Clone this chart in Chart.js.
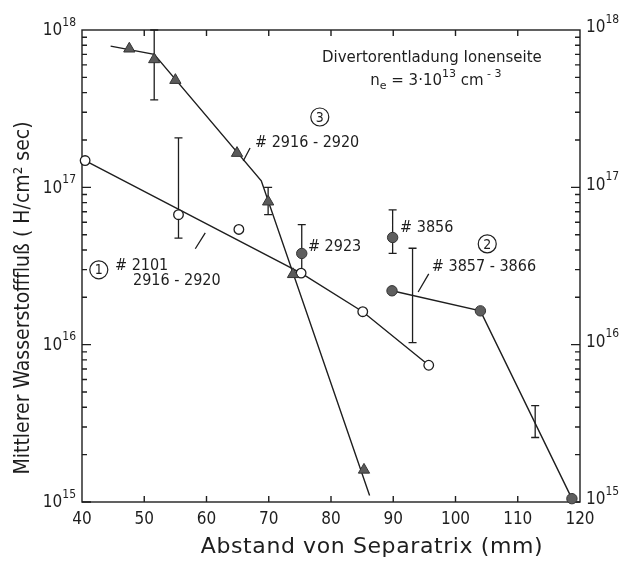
<!DOCTYPE html>
<html>
<head>
<meta charset="utf-8">
<script src="https://cdn.jsdelivr.net/npm/chart.js@4.4.1/dist/chart.umd.min.js"></script>
<style>
  body { margin: 0; background: #fff; }
</style>
</head>
<body>
<canvas id="c" width="629" height="565"></canvas>
<script>
"use strict";

// ---- data ----
const xTickLabels = [40, 50, 60, 70, 80, 90, 100, 110, 120];
const yDecades = [15, 16, 17, 18];

// (3) triangles #2916-2920
const triX = [47.6, 51.6, 55.0, 64.9, 69.9, 73.9, 85.3];
const triY = [7.6e17, 6.5e17, 4.8e17, 1.65e17, 8.1e16, 2.8e16, 1.6e15];
const triLineX = [44.6, 51.6, 68.8, 86.2];
const triLineY = [7.9e17, 7.0e17, 1.1e17, 1.1e15];

// (1) open circles #2101, 2916-2920
const openX = [40.5, 55.5, 65.2, 75.2, 85.1, 95.7];
const openY = [1.48e17, 6.7e16, 5.4e16, 2.85e16, 1.62e16, 7.4e15];
const openLineX = [40.5, 75.2, 85.1, 95.7];
const openLineY = [1.48e17, 2.85e16, 1.62e16, 7.4e15];

// (2) filled circles #2923, #3856, #3857-3866
const fillX = [75.3, 89.9, 89.8, 104.0, 118.7];
const fillY = [3.8e16, 4.8e16, 2.2e16, 1.64e16, 1.05e15];
const fillLineX = [89.8, 104.0, 118.7];
const fillLineY = [2.2e16, 1.64e16, 1.05e15];

// error bars
const errX = [51.6, 55.5, 69.9, 75.3, 89.9, 93.1, 112.8];
const errLo = [3.6e17, 4.75e16, 6.7e16, 2.9e16, 3.8e16, 1.03e16, 2.57e15];
const errHi = [1.0e18, 2.06e17, 1.0e17, 5.8e16, 7.2e16, 4.1e16, 4.1e15];

// labels in the plot (data coordinates)
const noteText = ['# 2916 - 2920', '# 2101', '2916 - 2920', '# 2923', '# 3856', '# 3857 - 3866'];
const noteX = [67.8, 45.3, 48.2, 76.3, 91.1, 96.2];
const noteY = [1.91e17, 3.16e16, 2.54e16, 4.17e16, 5.5e16, 3.12e16];
const circNum = ['3', '1', '2'];
const circX = [78.2, 42.7, 105.1];
const circY = [2.8e17, 2.99e16, 4.37e16];
const leaderX = [[65.9, 67.0], [58.2, 59.8], [94.0, 95.7]];
const leaderY = [[1.47e17, 1.78e17], [4.07e16, 5.13e16], [2.16e16, 2.82e16]];

const FONT = '"DejaVu Sans", sans-serif';
const NARROW = '"DejaVu Sans Condensed", "DejaVu Sans", sans-serif';
const INK = '#1e1e1e';

function pts(xs, ys) {
    return xs.map((x, i) => ({x: x, y: ys[i]}));
}

// draws a run of text pieces, some raised or lowered
function richText(ctx, x, y, parts, size, align, family) {
    family = family || FONT;
    let widths = parts.map(p => {
        ctx.font = (p.sup || p.sub ? Math.round(size * 0.72) : size) + 'px ' + family;
        return ctx.measureText(p.t).width;
    });
    let total = widths.reduce((a, b) => a + b, 0);
    let cx = align == 'right' ? x - total : (align == 'center' ? x - total / 2 : x);
    ctx.textAlign = 'left';
    ctx.textBaseline = 'middle';
    parts.forEach((p, i) => {
        ctx.font = (p.sup || p.sub ? Math.round(size * 0.72) : size) + 'px ' + family;
        let dy = p.sup ? -size * 0.5 : (p.sub ? size * 0.3 : 0);
        ctx.fillText(p.t, cx, y + dy);
        cx += widths[i];
    });
}

const figurePlugin = {
    id: 'figure',
    beforeDatasetsDraw(chart) {
        const ctx = chart.ctx;
        const a = chart.chartArea;
        const sx = chart.scales.x, sy = chart.scales.y;
        ctx.save();
        ctx.strokeStyle = INK;
        ctx.lineWidth = 1.4;
        ctx.strokeRect(a.left, a.top, a.right - a.left, a.bottom - a.top);

        // x ticks, bottom and top, pointing inwards
        ctx.beginPath();
        xTickLabels.slice(1, -1).forEach(v => {
            let px = sx.getPixelForValue(v);
            ctx.moveTo(px, a.bottom); ctx.lineTo(px, a.bottom - 6);
            ctx.moveTo(px, a.top); ctx.lineTo(px, a.top + 6);
        });
        // log ticks on both sides
        for (let d = yDecades[0]; d < yDecades[yDecades.length - 1]; d++) {
            for (let m = 1; m < 10; m++) {
                let py = sy.getPixelForValue(m * Math.pow(10, d));
                let len = m == 1 ? 9 : 5;
                ctx.moveTo(a.left, py); ctx.lineTo(a.left + len, py);
                ctx.moveTo(a.right, py); ctx.lineTo(a.right - len, py);
            }
        }
        ctx.stroke();

        // error bars
        ctx.lineWidth = 1.3;
        ctx.beginPath();
        errX.forEach((x, i) => {
            let px = sx.getPixelForValue(x);
            let p1 = sy.getPixelForValue(errLo[i]);
            let p2 = sy.getPixelForValue(errHi[i]);
            ctx.moveTo(px, p1); ctx.lineTo(px, p2);
            ctx.moveTo(px - 4, p1); ctx.lineTo(px + 4, p1);
            ctx.moveTo(px - 4, p2); ctx.lineTo(px + 4, p2);
        });
        // leader lines
        leaderX.forEach((lx, i) => {
            ctx.moveTo(sx.getPixelForValue(lx[0]), sy.getPixelForValue(leaderY[i][0]));
            ctx.lineTo(sx.getPixelForValue(lx[1]), sy.getPixelForValue(leaderY[i][1]));
        });
        ctx.stroke();
        ctx.restore();
    },
    afterDraw(chart) {
        const ctx = chart.ctx;
        const a = chart.chartArea;
        const sx = chart.scales.x, sy = chart.scales.y;
        ctx.save();
        ctx.fillStyle = INK;
        ctx.strokeStyle = INK;

        // y tick labels 10^n, left and right
        yDecades.forEach(d => {
            let py = sy.getPixelForValue(Math.pow(10, d));
            richText(ctx, a.left - 6, py + 1, [{t: '10'}, {t: String(d), sup: true}], 17, 'right', NARROW);
            richText(ctx, a.right + 6, py - 2, [{t: '10'}, {t: String(d), sup: true}], 17, 'left', NARROW);
        });

        // axis titles
        ctx.textAlign = 'center';
        ctx.textBaseline = 'middle';
        ctx.font = '22px ' + FONT;
        ctx.letterSpacing = '0.6px';
        ctx.fillText('Abstand von Separatrix (mm)', 372, 547);
        ctx.letterSpacing = '0px';
        ctx.save();
        ctx.translate(24, 298);
        ctx.rotate(-Math.PI / 2);
        ctx.font = '21px ' + NARROW;
        ctx.fillText('Mittlerer Wasserstofffluß ( H/cm² sec)', 0, 0);
        ctx.restore();

        // heading in the corner
        ctx.font = '15px ' + FONT;
        ctx.fillText('Divertorentladung Ionenseite', sx.getPixelForValue(96.2), sy.getPixelForValue(6.6e17));
        richText(ctx, sx.getPixelForValue(86.3), sy.getPixelForValue(4.7e17),
            [{t: 'n'}, {t: 'e', sub: true}, {t: ' = 3·10'}, {t: '13', sup: true}, {t: ' cm'}, {t: ' - 3', sup: true}],
            15, 'left');

        // notes
        ctx.font = '16px ' + NARROW;
        ctx.textAlign = 'left';
        noteText.forEach((t, i) => {
            ctx.fillText(t, sx.getPixelForValue(noteX[i]), sy.getPixelForValue(noteY[i]));
        });
        ctx.lineWidth = 1.2;
        circNum.forEach((n, i) => {
            let px = sx.getPixelForValue(circX[i]);
            let py = sy.getPixelForValue(circY[i]);
            ctx.beginPath();
            ctx.arc(px, py, 9, 0, Math.PI * 2);
            ctx.stroke();
            ctx.textAlign = 'center';
            ctx.font = '14px ' + NARROW;
            ctx.fillText(n, px, py + 1);
        });
        ctx.restore();
    }
};

const lineStyle = {
    showLine: true, pointRadius: 0, borderColor: INK, borderWidth: 1.4,
    fill: false, clip: false, order: 2
};

new Chart(document.getElementById('c'), {
    type: 'scatter',
    data: {
        datasets: [
            Object.assign({data: pts(triLineX, triLineY)}, lineStyle),
            Object.assign({data: pts(openLineX, openLineY)}, lineStyle),
            Object.assign({data: pts(fillLineX, fillLineY)}, lineStyle),
            {
                data: pts(triX, triY), pointStyle: 'triangle', pointRadius: 6.5,
                backgroundColor: '#5a5a5a', borderColor: '#333', borderWidth: 1,
                clip: false, order: 1
            },
            {
                data: pts(openX, openY), pointStyle: 'circle', pointRadius: 4.8,
                backgroundColor: '#fff', borderColor: INK, borderWidth: 1.3,
                clip: false, order: 1
            },
            {
                data: pts(fillX, fillY), pointStyle: 'circle', pointRadius: 5.2,
                backgroundColor: '#5e5e5e', borderColor: '#333', borderWidth: 1,
                clip: false, order: 1
            }
        ]
    },
    options: {
        responsive: false,
        animation: false,
        events: [],
        layout: {padding: {left: 82, right: 49, top: 30, bottom: 0}},
        plugins: {legend: {display: false}, tooltip: {enabled: false}},
        scales: {
            x: {
                type: 'linear', min: 40, max: 120,
                afterBuildTicks: s => { s.ticks = xTickLabels.map(v => ({value: v})); },
                afterFit: s => { s.height = 63; },
                grid: {display: false, drawTicks: false},
                border: {display: false},
                ticks: {padding: 7, color: INK, maxRotation: 0, font: {family: NARROW, size: 17}}
            },
            y: {type: 'logarithmic', min: 1e15, max: 1e18, display: false}
        }
    },
    plugins: [figurePlugin]
});
</script>
</body>
</html>
